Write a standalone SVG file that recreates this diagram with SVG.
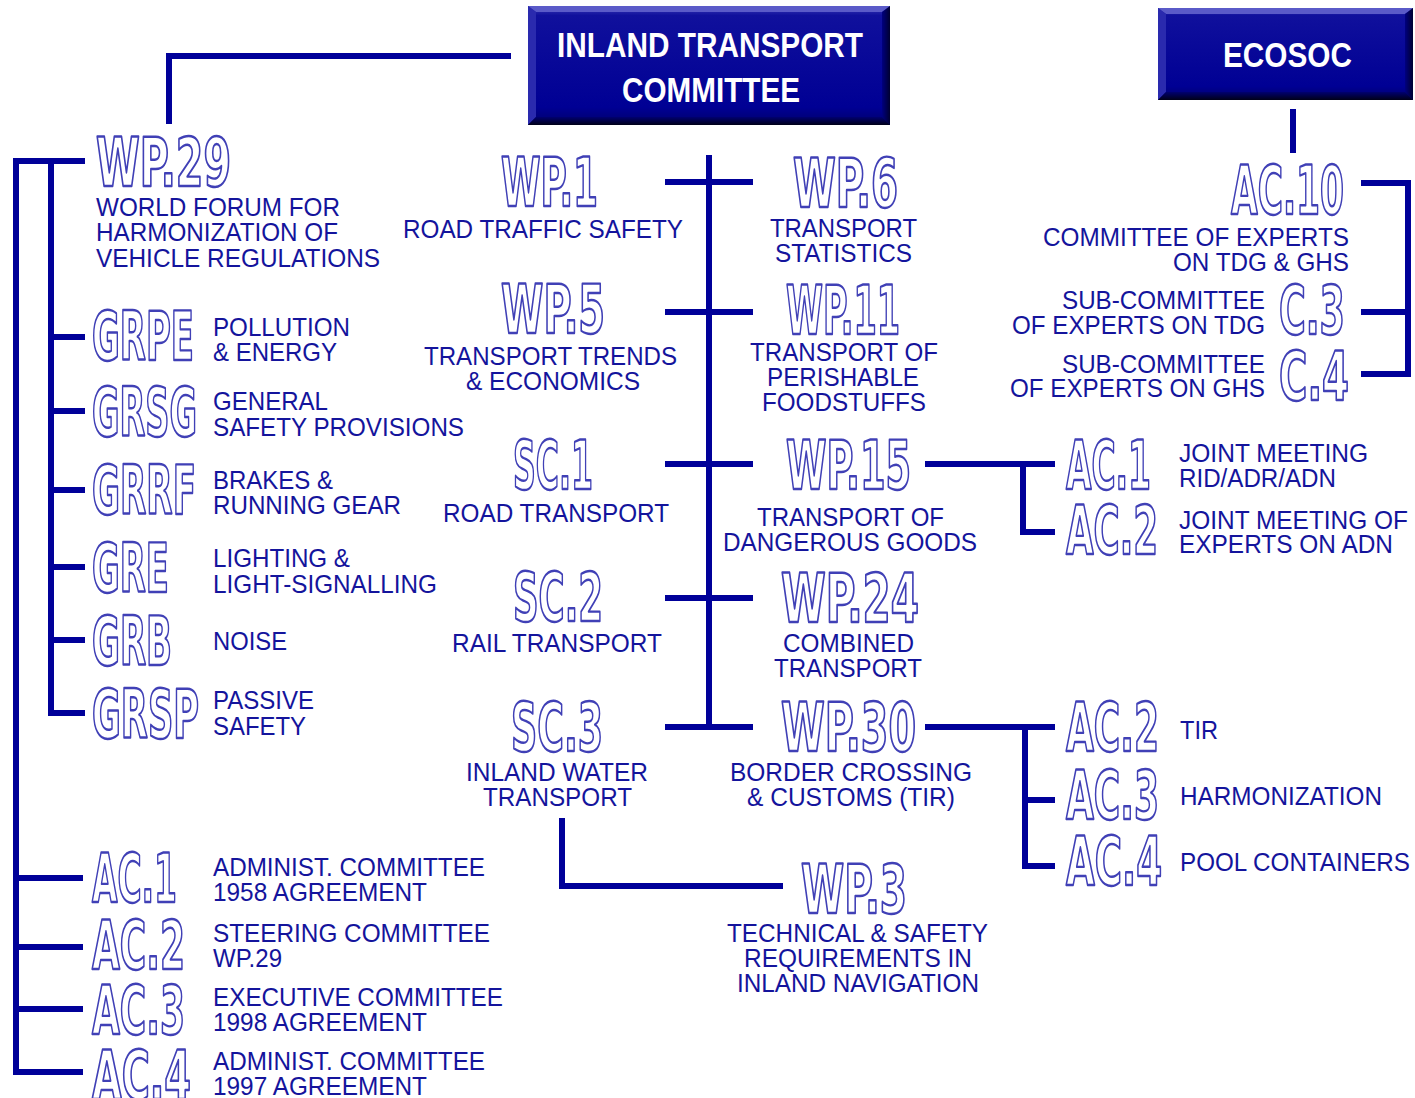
<svg xmlns="http://www.w3.org/2000/svg" width="1415" height="1098" viewBox="0 0 1415 1098">
<defs>
<linearGradient id="boxg" x1="0" y1="0" x2="0" y2="1">
<stop offset="0" stop-color="#3a3ab8"/>
<stop offset="0.08" stop-color="#10109c"/>
<stop offset="0.85" stop-color="#000094"/>
<stop offset="1" stop-color="#00006a"/>
</linearGradient>
<linearGradient id="botg" x1="0" y1="0" x2="0" y2="1">
<stop offset="0" stop-color="#000070"/>
<stop offset="1" stop-color="#000018"/>
</linearGradient>
<linearGradient id="rgtg" x1="0" y1="0" x2="1" y2="0">
<stop offset="0" stop-color="#000080"/>
<stop offset="1" stop-color="#000030"/>
</linearGradient>
</defs>
<style>
.ln{stroke:#000099;stroke-width:6;fill:none;stroke-linecap:butt;stroke-linejoin:miter}
.code{font-family:"DejaVu Sans Condensed","Liberation Sans",Arial,sans-serif;font-weight:bold;font-size:67px;fill:#ffffff;stroke:#4040b6;stroke-width:2.4;stroke-linejoin:round}
.lbl{font-family:"Liberation Sans",Arial,sans-serif;font-size:26px;fill:#14149c}
.hd{font-family:"Liberation Sans",Arial,sans-serif;font-weight:bold;font-size:35px;fill:#ffffff}
</style>
<rect width="1415" height="1098" fill="#ffffff"/>

<g id="connectors">
<path class="ln" d="M511,56 H169 V124"/>
<path class="ln" d="M85,161 H16 V1072 H83"/>
<path class="ln" d="M16,878 H83 M16,947 H83 M16,1009 H83"/>
<path class="ln" d="M51,161 V713 H85"/>
<path class="ln" d="M51,337 H85 M51,411 H85 M51,490 H85 M51,567 H85 M51,640 H85"/>
<path class="ln" d="M709,155 V730"/>
<path class="ln" d="M665,182 H753 M665,312 H753 M665,464 H753 M665,598 H753 M665,727 H753"/>
<path class="ln" d="M925,464 H1055 M1023,464 V532 H1055"/>
<path class="ln" d="M925,727 H1055 M1025,727 V866 H1055 M1025,800 H1055"/>
<path class="ln" d="M562,818 V886 H783"/>
<path class="ln" d="M1293,109 V153"/>
<path class="ln" d="M1361,183 H1408 V374 H1361 M1361,312 H1408"/>
</g>

<g id="itc">
<rect x="528" y="6" width="362" height="119" fill="url(#boxg)"/>
<polygon points="528,6 890,6 882,12 536,12" fill="#5a5ac8"/>
<polygon points="528,6 536,12 536,117 528,125" fill="#2a2aae"/>
<polygon points="890,6 890,125 882,117 882,12" fill="url(#rgtg)"/>
<polygon points="528,125 890,125 882,117 536,117" fill="url(#botg)"/>
<text class="hd" x="557" y="57" textLength="306" lengthAdjust="spacingAndGlyphs">INLAND TRANSPORT</text>
<text class="hd" x="622" y="102" textLength="178" lengthAdjust="spacingAndGlyphs">COMMITTEE</text>
</g>

<g id="ecosoc">
<rect x="1158" y="8" width="255" height="92" fill="url(#boxg)"/>
<polygon points="1158,8 1413,8 1405,14 1166,14" fill="#5a5ac8"/>
<polygon points="1158,8 1166,14 1166,92 1158,100" fill="#2a2aae"/>
<polygon points="1413,8 1413,100 1405,92 1405,14" fill="url(#rgtg)"/>
<polygon points="1158,100 1413,100 1405,92 1166,92" fill="url(#botg)"/>
<text class="hd" x="1223" y="67" textLength="129" lengthAdjust="spacingAndGlyphs">ECOSOC</text>
</g>

<g id="wp29">
<text class="code" x="96" y="186" textLength="135" lengthAdjust="spacingAndGlyphs">WP.29</text>
<text class="lbl" x="96" y="216" textLength="244" lengthAdjust="spacingAndGlyphs">WORLD FORUM FOR</text>
<text class="lbl" x="96" y="241" textLength="242" lengthAdjust="spacingAndGlyphs">HARMONIZATION OF</text>
<text class="lbl" x="96" y="267" textLength="284" lengthAdjust="spacingAndGlyphs">VEHICLE REGULATIONS</text>
</g>
<g id="grpe">
<text class="code" x="92" y="360" textLength="102" lengthAdjust="spacingAndGlyphs">GRPE</text>
<text class="lbl" x="213" y="336" textLength="137" lengthAdjust="spacingAndGlyphs">POLLUTION</text>
<text class="lbl" x="213" y="361" textLength="124" lengthAdjust="spacingAndGlyphs">&amp; ENERGY</text>
</g>
<g id="grsg">
<text class="code" x="92" y="436" textLength="105" lengthAdjust="spacingAndGlyphs">GRSG</text>
<text class="lbl" x="213" y="410" textLength="115" lengthAdjust="spacingAndGlyphs">GENERAL</text>
<text class="lbl" x="213" y="436" textLength="251" lengthAdjust="spacingAndGlyphs">SAFETY PROVISIONS</text>
</g>
<g id="grrf">
<text class="code" x="92" y="514" textLength="104" lengthAdjust="spacingAndGlyphs">GRRF</text>
<text class="lbl" x="213" y="489" textLength="120" lengthAdjust="spacingAndGlyphs">BRAKES &amp;</text>
<text class="lbl" x="213" y="514" textLength="188" lengthAdjust="spacingAndGlyphs">RUNNING GEAR</text>
</g>
<g id="gre">
<text class="code" x="92" y="592" textLength="77" lengthAdjust="spacingAndGlyphs">GRE</text>
<text class="lbl" x="213" y="567" textLength="137" lengthAdjust="spacingAndGlyphs">LIGHTING &amp;</text>
<text class="lbl" x="213" y="593" textLength="224" lengthAdjust="spacingAndGlyphs">LIGHT-SIGNALLING</text>
</g>
<g id="grb">
<text class="code" x="92" y="665" textLength="80" lengthAdjust="spacingAndGlyphs">GRB</text>
<text class="lbl" x="213" y="650" textLength="74" lengthAdjust="spacingAndGlyphs">NOISE</text>
</g>
<g id="grsp">
<text class="code" x="92" y="738" textLength="107" lengthAdjust="spacingAndGlyphs">GRSP</text>
<text class="lbl" x="213" y="709" textLength="101" lengthAdjust="spacingAndGlyphs">PASSIVE</text>
<text class="lbl" x="213" y="735" textLength="93" lengthAdjust="spacingAndGlyphs">SAFETY</text>
</g>
<g id="ac1-wp29">
<text class="code" x="92" y="902" textLength="85" lengthAdjust="spacingAndGlyphs">AC.1</text>
<text class="lbl" x="213" y="876" textLength="272" lengthAdjust="spacingAndGlyphs">ADMINIST. COMMITTEE</text>
<text class="lbl" x="213" y="901" textLength="214" lengthAdjust="spacingAndGlyphs">1958 AGREEMENT</text>
</g>
<g id="ac2-wp29">
<text class="code" x="92" y="969" textLength="93" lengthAdjust="spacingAndGlyphs">AC.2</text>
<text class="lbl" x="213" y="942" textLength="277" lengthAdjust="spacingAndGlyphs">STEERING COMMITTEE</text>
<text class="lbl" x="213" y="967" textLength="69" lengthAdjust="spacingAndGlyphs">WP.29</text>
</g>
<g id="ac3-wp29">
<text class="code" x="92" y="1034" textLength="93" lengthAdjust="spacingAndGlyphs">AC.3</text>
<text class="lbl" x="213" y="1006" textLength="290" lengthAdjust="spacingAndGlyphs">EXECUTIVE COMMITTEE</text>
<text class="lbl" x="213" y="1031" textLength="214" lengthAdjust="spacingAndGlyphs">1998 AGREEMENT</text>
</g>
<g id="ac4-wp29">
<text class="code" x="92" y="1099" textLength="99" lengthAdjust="spacingAndGlyphs">AC.4</text>
<text class="lbl" x="213" y="1070" textLength="272" lengthAdjust="spacingAndGlyphs">ADMINIST. COMMITTEE</text>
<text class="lbl" x="213" y="1095" textLength="214" lengthAdjust="spacingAndGlyphs">1997 AGREEMENT</text>
</g>

<g id="wp1">
<text class="code" x="501" y="206" textLength="97" lengthAdjust="spacingAndGlyphs">WP.1</text>
<text class="lbl" x="403" y="238" textLength="280" lengthAdjust="spacingAndGlyphs">ROAD TRAFFIC SAFETY</text>
</g>
<g id="wp5">
<text class="code" x="501" y="333" textLength="104" lengthAdjust="spacingAndGlyphs">WP.5</text>
<text class="lbl" x="424" y="365" textLength="253" lengthAdjust="spacingAndGlyphs">TRANSPORT TRENDS</text>
<text class="lbl" x="466" y="390" textLength="174" lengthAdjust="spacingAndGlyphs">&amp; ECONOMICS</text>
</g>
<g id="sc1">
<text class="code" x="513" y="489" textLength="80" lengthAdjust="spacingAndGlyphs">SC.1</text>
<text class="lbl" x="443" y="522" textLength="226" lengthAdjust="spacingAndGlyphs">ROAD TRANSPORT</text>
</g>
<g id="sc2">
<text class="code" x="513" y="621" textLength="90" lengthAdjust="spacingAndGlyphs">SC.2</text>
<text class="lbl" x="452" y="652" textLength="210" lengthAdjust="spacingAndGlyphs">RAIL TRANSPORT</text>
</g>
<g id="sc3">
<text class="code" x="511" y="751" textLength="92" lengthAdjust="spacingAndGlyphs">SC.3</text>
<text class="lbl" x="466" y="781" textLength="182" lengthAdjust="spacingAndGlyphs">INLAND WATER</text>
<text class="lbl" x="483" y="806" textLength="149" lengthAdjust="spacingAndGlyphs">TRANSPORT</text>
</g>

<g id="wp6">
<text class="code" x="793" y="207" textLength="105" lengthAdjust="spacingAndGlyphs">WP.6</text>
<text class="lbl" x="770" y="237" textLength="147" lengthAdjust="spacingAndGlyphs">TRANSPORT</text>
<text class="lbl" x="775" y="262" textLength="137" lengthAdjust="spacingAndGlyphs">STATISTICS</text>
</g>
<g id="wp11">
<text class="code" x="786" y="334" textLength="114" lengthAdjust="spacingAndGlyphs">WP.11</text>
<text class="lbl" x="750" y="361" textLength="188" lengthAdjust="spacingAndGlyphs">TRANSPORT OF</text>
<text class="lbl" x="767" y="386" textLength="152" lengthAdjust="spacingAndGlyphs">PERISHABLE</text>
<text class="lbl" x="762" y="411" textLength="164" lengthAdjust="spacingAndGlyphs">FOODSTUFFS</text>
</g>
<g id="wp15">
<text class="code" x="786" y="489" textLength="125" lengthAdjust="spacingAndGlyphs">WP.15</text>
<text class="lbl" x="757" y="526" textLength="187" lengthAdjust="spacingAndGlyphs">TRANSPORT OF</text>
<text class="lbl" x="723" y="551" textLength="254" lengthAdjust="spacingAndGlyphs">DANGEROUS GOODS</text>
</g>
<g id="wp24">
<text class="code" x="781" y="622" textLength="138" lengthAdjust="spacingAndGlyphs">WP.24</text>
<text class="lbl" x="783" y="652" textLength="131" lengthAdjust="spacingAndGlyphs">COMBINED</text>
<text class="lbl" x="774" y="677" textLength="148" lengthAdjust="spacingAndGlyphs">TRANSPORT</text>
</g>
<g id="wp30">
<text class="code" x="781" y="751" textLength="135" lengthAdjust="spacingAndGlyphs">WP.30</text>
<text class="lbl" x="730" y="781" textLength="242" lengthAdjust="spacingAndGlyphs">BORDER CROSSING</text>
<text class="lbl" x="747" y="806" textLength="208" lengthAdjust="spacingAndGlyphs">&amp; CUSTOMS (TIR)</text>
</g>
<g id="wp3">
<text class="code" x="801" y="913" textLength="106" lengthAdjust="spacingAndGlyphs">WP.3</text>
<text class="lbl" x="727" y="942" textLength="261" lengthAdjust="spacingAndGlyphs">TECHNICAL &amp; SAFETY</text>
<text class="lbl" x="744" y="967" textLength="228" lengthAdjust="spacingAndGlyphs">REQUIREMENTS IN</text>
<text class="lbl" x="737" y="992" textLength="242" lengthAdjust="spacingAndGlyphs">INLAND NAVIGATION</text>
</g>

<g id="ac10">
<text class="code" x="1231" y="214" textLength="113" lengthAdjust="spacingAndGlyphs">AC.10</text>
<text class="lbl" x="1043" y="246" textLength="306" lengthAdjust="spacingAndGlyphs">COMMITTEE OF EXPERTS</text>
<text class="lbl" x="1173" y="271" textLength="176" lengthAdjust="spacingAndGlyphs">ON TDG &amp; GHS</text>
</g>
<g id="c3">
<text class="code" x="1279" y="334" textLength="66" lengthAdjust="spacingAndGlyphs">C.3</text>
<text class="lbl" x="1062" y="309" textLength="203" lengthAdjust="spacingAndGlyphs">SUB-COMMITTEE</text>
<text class="lbl" x="1012" y="334" textLength="253" lengthAdjust="spacingAndGlyphs">OF EXPERTS ON TDG</text>
</g>
<g id="c4">
<text class="code" x="1279" y="400" textLength="70" lengthAdjust="spacingAndGlyphs">C.4</text>
<text class="lbl" x="1062" y="373" textLength="203" lengthAdjust="spacingAndGlyphs">SUB-COMMITTEE</text>
<text class="lbl" x="1010" y="397" textLength="255" lengthAdjust="spacingAndGlyphs">OF EXPERTS ON GHS</text>
</g>
<g id="ac1-wp15">
<text class="code" x="1066" y="489" textLength="85" lengthAdjust="spacingAndGlyphs">AC.1</text>
<text class="lbl" x="1179" y="462" textLength="189" lengthAdjust="spacingAndGlyphs">JOINT MEETING</text>
<text class="lbl" x="1179" y="487" textLength="157" lengthAdjust="spacingAndGlyphs">RID/ADR/ADN</text>
</g>
<g id="ac2-wp15">
<text class="code" x="1066" y="554" textLength="92" lengthAdjust="spacingAndGlyphs">AC.2</text>
<text class="lbl" x="1179" y="529" textLength="229" lengthAdjust="spacingAndGlyphs">JOINT MEETING OF</text>
<text class="lbl" x="1179" y="553" textLength="214" lengthAdjust="spacingAndGlyphs">EXPERTS ON ADN</text>
</g>
<g id="ac2-wp30">
<text class="code" x="1066" y="751" textLength="93" lengthAdjust="spacingAndGlyphs">AC.2</text>
<text class="lbl" x="1180" y="739" textLength="38" lengthAdjust="spacingAndGlyphs">TIR</text>
</g>
<g id="ac3-wp30">
<text class="code" x="1066" y="819" textLength="93" lengthAdjust="spacingAndGlyphs">AC.3</text>
<text class="lbl" x="1180" y="805" textLength="202" lengthAdjust="spacingAndGlyphs">HARMONIZATION</text>
</g>
<g id="ac4-wp30">
<text class="code" x="1066" y="885" textLength="96" lengthAdjust="spacingAndGlyphs">AC.4</text>
<text class="lbl" x="1180" y="871" textLength="230" lengthAdjust="spacingAndGlyphs">POOL CONTAINERS</text>
</g>
</svg>
